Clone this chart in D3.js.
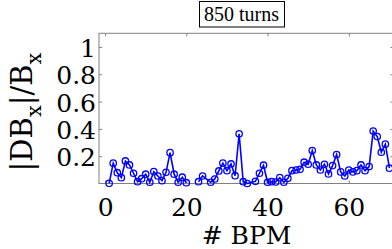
<!DOCTYPE html>
<html>
<head>
<meta charset="utf-8">
<script src="https://cdn.jsdelivr.net/npm/d3@7"></script>
<style>
    html, body { margin: 0; padding: 0; background: white; }
    svg { display: block; }
</style>
</head>
<body>
<svg id="chart" width="392" height="249"></svg>
<script>
// BPM index (25 and 36 are not in the data, 21-22 are missing values)
const bpm = [1, 2, 3, 4, 5, 6, 7, 8, 9, 10,
    11, 12, 13, 14, 15, 16, 17, 18, 19, 20,
    21, 22, 23, 24, 26, 27, 28, 29, 30,
    31, 32, 33, 34, 35, 37, 38, 39, 40,
    41, 42, 43, 44, 45, 46, 47, 48, 49, 50,
    51, 52, 53, 54, 55, 56, 57, 58, 59, 60,
    61, 62, 63, 64, 65, 66, 67, 68, 69, 70];
const dbx = [0.001, 0.149, 0.079, 0.043, 0.165, 0.136, 0.075, 0.013, 0.035, 0.068,
    0.009, 0.087, 0.055, 0.021, 0.082, 0.226, 0.068, 0.009, 0.046, 0.006,
    null, null, 0.013, 0.055, 0.009, 0.033, 0.092, 0.149, 0.094,
    0.143, 0.057, 0.364, 0.013, 0.0, 0.016, 0.075, 0.134, 0.009,
    0.013, 0.011, 0.043, 0.009, 0.038, 0.094, 0.099, 0.104, 0.156, 0.141,
    0.241, 0.136, 0.099, 0.141, 0.07, 0.131, 0.212, 0.085, 0.055, 0.099,
    0.085, 0.094, 0.136, 0.094, 0.124, 0.384, 0.344, 0.229, 0.288, 0.112];

const xTicks = [0, 20, 40, 60];
const yTicks = [0.2, 0.4, 0.6, 0.8, 1];
const titleText = "850 turns";

const axisColor = "#808080";
const lineColor = "#0000ff";
const serif = "'DejaVu Serif', serif";

const plot = { left: 99, right: 393.5, top: 33.3, bottom: 183.5 };

const x = d3.scaleLinear().domain([-1.5, 71]).range([plot.left, plot.right]);
const y = d3.scaleLinear().domain([0, 1.1]).range([plot.bottom, plot.top]);

const points = bpm.map((b, i) => ({ b: b, v: dbx[i] }));

let svg = d3.select('#chart');

// axes: ticks drawn inward on all four sides, like the original figure
function drawAxis(axis, tx, ty) {
    let g = svg.append("g")
    .attr("transform", `translate(${tx},${ty})`)
    .call(axis);
    g.select(".domain").remove();
    g.selectAll("line").attr("stroke", axisColor);
    return g;
}

let gBottom = drawAxis(d3.axisBottom(x).tickValues(xTicks).tickSize(-3), 0, plot.bottom);
gBottom.selectAll("text")
.attr("font-family", serif)
.attr("font-size", 25)
.attr("fill", "black")
.attr("dy", "0.71em")
.attr("y", 15);

drawAxis(d3.axisTop(x).tickValues(xTicks).tickSize(-3).tickFormat(""), 0, plot.top);

let gLeft = drawAxis(d3.axisLeft(y).tickValues(yTicks).tickSize(-3).tickFormat(d3.format("")), plot.left, 0);
gLeft.selectAll("text")
.attr("font-family", serif)
.attr("font-size", 25)
.attr("fill", "black")
.attr("x", -3)
.attr("dy", "0.38em");

drawAxis(d3.axisRight(y).tickValues(yTicks).tickSize(-3).tickFormat(""), plot.right, 0);

svg.append("rect")
.attr("x", plot.left)
.attr("y", plot.top)
.attr("width", plot.right - plot.left)
.attr("height", plot.bottom - plot.top)
.attr("fill", "none")
.attr("stroke", axisColor)
.attr("stroke-width", 1);

// data line with hollow circle markers
const line = d3.line()
.defined(d => d.v !== null)
.x(d => x(d.b))
.y(d => y(d.v));

svg.append("path")
.datum(points)
.attr("d", line)
.attr("fill", "none")
.attr("stroke", lineColor)
.attr("stroke-width", 1.6);

svg.append("g")
.selectAll("circle")
.data(points.filter(d => d.v !== null))
.enter()
.append("circle")
.attr("cx", d => x(d.b))
.attr("cy", d => y(d.v))
.attr("r", 3.2)
.attr("fill", "none")
.attr("stroke", lineColor)
.attr("stroke-width", 1.3);

// title in a box
let titleG = svg.append("g");
let titleBox = titleG.append("rect");
let title = titleG.append("text")
.attr("x", 241.5)
.attr("y", 21)
.attr("text-anchor", "middle")
.attr("font-family", "'Liberation Serif', serif")
.attr("font-size", 20)
.attr("fill", "black")
.text(titleText);
const tb = title.node().getBBox();
titleBox
.attr("x", Math.round(tb.x - 5) + 0.5)
.attr("y", 1.5)
.attr("width", Math.round(tb.width + 10))
.attr("height", 25.5)
.attr("fill", "white")
.attr("stroke", "black")
.attr("stroke-width", 1);

// axis labels
svg.append("text")
.attr("x", 246.5)
.attr("y", 244)
.attr("text-anchor", "middle")
.attr("font-family", serif)
.attr("font-size", 25)
.attr("fill", "black")
.text("# BPM");

let ylab = svg.append("text")
.attr("transform", "translate(32,112) rotate(-90)")
.attr("text-anchor", "middle")
.attr("font-family", serif)
.attr("font-size", 29)
.attr("fill", "black");
ylab.append("tspan").text("|DB");
ylab.append("tspan").attr("font-size", 21).attr("dy", 9).text("x");
ylab.append("tspan").attr("dy", -9).text("|/B");
ylab.append("tspan").attr("font-size", 21).attr("dy", 9).text("x");
</script>
</body>
</html>
